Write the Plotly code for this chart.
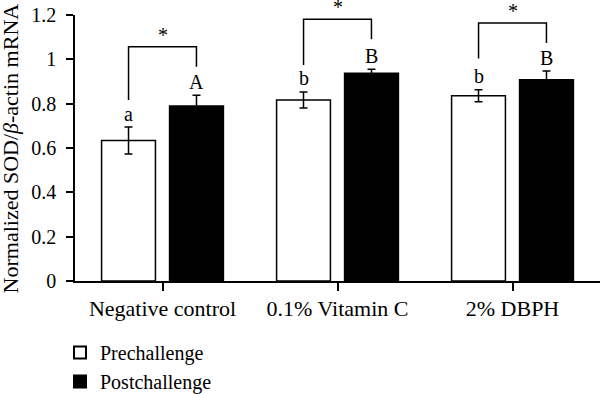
import plotly.graph_objects as go

categories = ["Negative control", "0.1% Vitamin C", "2% DBPH"]
pre_values = [0.634, 0.817, 0.836]
pre_err = [0.061, 0.036, 0.027]
post_values = [0.790, 0.937, 0.908]
post_err = [0.048, 0.018, 0.039]
pre_letters = ["a", "b", "b"]
post_letters = ["A", "B", "B"]
# bracket levels (data units): left foot, top, right foot
bracket_left = [0.817, 0.975, 1.004]
bracket_top = [1.057, 1.181, 1.164]
bracket_right = [0.967, 1.091, 1.074]
y_ticks = [0, 0.2, 0.4, 0.6, 0.8, 1.0, 1.2]
y_ticklabels = ["0", "0.2", "0.4", "0.6", "0.8", "1", "1.2"]
y_title = "Normalized SOD/<i>β</i>-actin mRNA"

FONT = "Liberation Serif"
offset = 0.194

fig = go.Figure()
fig.add_trace(go.Bar(
    name="Prechallenge", x=categories, y=pre_values,
    marker=dict(color="white", line=dict(color="black", width=1.5)),
    error_y=dict(type="data", array=pre_err, color="black", thickness=1.5, width=4),
))
fig.add_trace(go.Bar(
    name="Postchallenge", x=categories, y=post_values,
    marker=dict(color="black", line=dict(color="black", width=1.5)),
    error_y=dict(type="data", array=post_err, color="black", thickness=1.5, width=4),
))

annotations = []
shapes = []
for i in range(len(categories)):
    annotations.append(dict(x=i - offset, y=pre_values[i] + pre_err[i] + 0.002, xref="x", yref="y",
                            text=pre_letters[i], showarrow=False, yanchor="bottom",
                            font=dict(family=FONT, size=20, color="black")))
    annotations.append(dict(x=i + offset, y=post_values[i] + post_err[i] + 0.002, xref="x", yref="y",
                            text=post_letters[i], showarrow=False, yanchor="bottom",
                            font=dict(family=FONT, size=20, color="black")))
    shapes.append(dict(type="path", xref="x", yref="y",
                       path=f"M {i - offset} {bracket_left[i]} L {i - offset} {bracket_top[i]} L {i + offset} {bracket_top[i]} L {i + offset} {bracket_right[i]}",
                       line=dict(color="black", width=1.5)))
    annotations.append(dict(x=i, y=bracket_top[i] / 1.2 - 0.004, xref="x", yref="y domain",
                            text="*", showarrow=False, yanchor="bottom",
                            font=dict(family=FONT, size=20, color="black")))

# y-axis title as rotated text at the left edge
annotations.append(dict(x=-0.123, y=0.5, xref="paper", yref="paper", text=y_title,
                        textangle=-90, showarrow=False, xanchor="center", yanchor="middle",
                        font=dict(family=FONT, size=22, color="black")))

fig.update_layout(
    width=600, height=394,
    margin=dict(l=75, r=0, t=15, b=112.5, autoexpand=False),
    plot_bgcolor="white", paper_bgcolor="white",
    barmode="group", bargap=0.223, bargroupgap=0.208,
    font=dict(family=FONT, size=20, color="black"),
    shapes=shapes, annotations=annotations,
    legend=dict(x=0.1, y=0.155, xref="container", yref="container",
                xanchor="left", yanchor="top", orientation="v",
                font=dict(family=FONT, size=20), tracegroupgap=0, itemsizing="constant",
                bgcolor="rgba(0,0,0,0)"),
    showlegend=True,
)
fig.update_xaxes(showline=True, linecolor="black", linewidth=1.5, ticks="outside",
                 ticklen=8, tickwidth=1.5, tickcolor="black", range=[-0.5, 2.5],
                 showgrid=False, zeroline=False, ticklabelstandoff=-1, automargin=False,
                 tickangle=0, tickfont=dict(family=FONT, size=22))
fig.update_yaxes(showline=True, linecolor="black", linewidth=1.5, ticks="outside",
                 ticklen=7, tickwidth=1.5, tickcolor="black", range=[0, 1.2],
                 tickvals=y_ticks, ticktext=y_ticklabels, showgrid=False, zeroline=False,
                 ticklabelstandoff=6, automargin=False,
                 tickfont=dict(family=FONT, size=20))

fig.write_html("out.html", post_script="document.body.style.margin='0';",
               config={"displayModeBar": False})
